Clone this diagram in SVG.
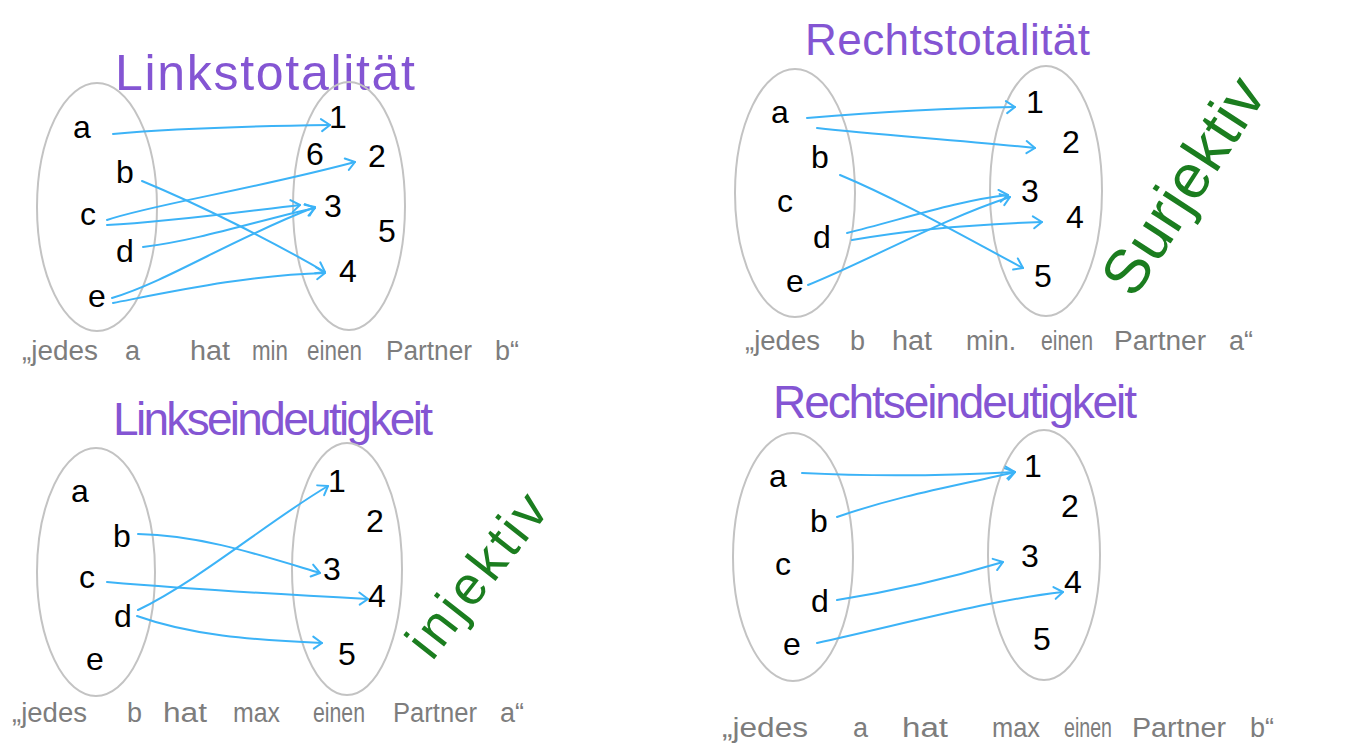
<svg xmlns="http://www.w3.org/2000/svg" width="1353" height="754" viewBox="0 0 1353 754">
<style>
.set{fill:none;stroke:#c3c3c3;stroke-width:2}
.el{font-family:"Liberation Sans",Arial,sans-serif;font-size:32px;fill:#000;text-anchor:middle}
.ttl{font-family:"Liberation Sans",Arial,sans-serif;fill:#8455d3}
.cap text{font-family:"Liberation Sans",Arial,sans-serif;font-size:27px;fill:#7d7d7d}
.grn{font-family:"Liberation Sans",Arial,sans-serif;fill:#1b7d1f}
.con path{fill:none;stroke:#3cb3f7;stroke-width:2;stroke-linecap:round;marker-end:url(#ah)}
</style>
<defs>
<marker id="ah" viewBox="-12 -8 14 16" markerWidth="14" markerHeight="16" refX="0" refY="0" orient="auto" markerUnits="userSpaceOnUse">
<path d="M-9,-6 L0,0 L-8,6" fill="none" stroke="#3cb3f7" stroke-width="2" stroke-linecap="round" stroke-linejoin="round"/>
</marker>
</defs>
<rect width="1353" height="754" fill="#fff"/>

<!-- Panel 1: Linkstotalität -->
<g id="panel1">
<text id="p1-title" class="ttl" x="115" y="90" font-size="50" textLength="300">Linkstotalität</text>
<g id="p1-setA"><ellipse class="set" cx="97" cy="207" rx="60" ry="124"/></g>
<g id="p1-setB"><ellipse class="set" cx="349" cy="206" rx="56" ry="124"/></g>
<g id="p1-a"><text class="el" x="82" y="138">a</text></g>
<g id="p1-b"><text class="el" x="125" y="183">b</text></g>
<g id="p1-c"><text class="el" x="88" y="225">c</text></g>
<g id="p1-d"><text class="el" x="125" y="262">d</text></g>
<g id="p1-e"><text class="el" x="97" y="307">e</text></g>
<g id="p1-1"><text class="el" x="338" y="128">1</text></g>
<g id="p1-6"><text class="el" x="315" y="165">6</text></g>
<g id="p1-2"><text class="el" x="377" y="167">2</text></g>
<g id="p1-3"><text class="el" x="333" y="217">3</text></g>
<g id="p1-5"><text class="el" x="387" y="242">5</text></g>
<g id="p1-4"><text class="el" x="348" y="282">4</text></g>
<g id="p1-caption" class="cap">
<text x="22" y="360" textLength="76" lengthAdjust="spacingAndGlyphs">„jedes</text>
<text x="125" y="360">a</text>
<text x="190" y="360" textLength="40" lengthAdjust="spacingAndGlyphs">hat</text>
<text x="252" y="360" textLength="36" lengthAdjust="spacingAndGlyphs">min</text>
<text x="307" y="360" textLength="55" lengthAdjust="spacingAndGlyphs">einen</text>
<text x="386" y="360" textLength="86" lengthAdjust="spacingAndGlyphs">Partner</text>
<text x="495" y="360">b“</text>
</g>
</g>

<!-- Panel 2: Rechtstotalität -->
<g id="panel2">
<text id="p2-title" class="ttl" x="805" y="55" font-size="44" textLength="285">Rechtstotalität</text>
<g id="p2-setA"><ellipse class="set" cx="795" cy="193" rx="60" ry="124"/></g>
<g id="p2-setB"><ellipse class="set" cx="1046" cy="191" rx="56" ry="125"/></g>
<g id="p2-a"><text class="el" x="780" y="123">a</text></g>
<g id="p2-b"><text class="el" x="820" y="168">b</text></g>
<g id="p2-c"><text class="el" x="785" y="212">c</text></g>
<g id="p2-d"><text class="el" x="822" y="248">d</text></g>
<g id="p2-e"><text class="el" x="795" y="292">e</text></g>
<g id="p2-1"><text class="el" x="1035" y="113">1</text></g>
<g id="p2-2"><text class="el" x="1071" y="153">2</text></g>
<g id="p2-3"><text class="el" x="1030" y="202">3</text></g>
<g id="p2-4"><text class="el" x="1075" y="228">4</text></g>
<g id="p2-5"><text class="el" x="1043" y="287">5</text></g>
<text id="p2-label" class="grn" font-size="62" textLength="245" transform="translate(1134,300) rotate(-57)">Surjektiv</text>
<g id="p2-caption" class="cap">
<text x="745" y="350" textLength="75" lengthAdjust="spacingAndGlyphs">„jedes</text>
<text x="850" y="350">b</text>
<text x="892" y="350" textLength="40" lengthAdjust="spacingAndGlyphs">hat</text>
<text x="966" y="350" textLength="50" lengthAdjust="spacingAndGlyphs">min.</text>
<text x="1041" y="350" textLength="52" lengthAdjust="spacingAndGlyphs">einen</text>
<text x="1114" y="350" textLength="92" lengthAdjust="spacingAndGlyphs">Partner</text>
<text x="1229" y="350">a“</text>
</g>
</g>

<!-- Panel 3: Linkseindeutigkeit -->
<g id="panel3">
<text id="p3-title" class="ttl" x="113" y="435" font-size="46" textLength="320">Linkseindeutigkeit</text>
<g id="p3-setA"><ellipse class="set" cx="96" cy="572" rx="59" ry="124"/></g>
<g id="p3-setB"><ellipse class="set" cx="347" cy="569" rx="55" ry="126"/></g>
<g id="p3-a"><text class="el" x="80" y="502">a</text></g>
<g id="p3-b"><text class="el" x="122" y="547">b</text></g>
<g id="p3-c"><text class="el" x="87" y="588">c</text></g>
<g id="p3-d"><text class="el" x="123" y="627">d</text></g>
<g id="p3-e"><text class="el" x="95" y="670">e</text></g>
<g id="p3-1"><text class="el" x="337" y="492">1</text></g>
<g id="p3-2"><text class="el" x="375" y="532">2</text></g>
<g id="p3-3"><text class="el" x="332" y="580">3</text></g>
<g id="p3-4"><text class="el" x="377" y="607">4</text></g>
<g id="p3-5"><text class="el" x="347" y="665">5</text></g>
<text id="p3-label" class="grn" font-size="54" textLength="192" transform="translate(432,662) rotate(-52)">injektiv</text>
<g id="p3-caption" class="cap">
<text x="12" y="722" textLength="75" lengthAdjust="spacingAndGlyphs">„jedes</text>
<text x="127" y="722">b</text>
<text x="163" y="722" textLength="44" lengthAdjust="spacingAndGlyphs">hat</text>
<text x="233" y="722" textLength="47" lengthAdjust="spacingAndGlyphs">max</text>
<text x="313" y="722" textLength="52" lengthAdjust="spacingAndGlyphs">einen</text>
<text x="393" y="722" textLength="84" lengthAdjust="spacingAndGlyphs">Partner</text>
<text x="500" y="722">a“</text>
</g>
</g>

<!-- Panel 4: Rechtseindeutigkeit -->
<g id="panel4">
<text id="p4-title" class="ttl" x="773" y="418" font-size="46" textLength="364">Rechtseindeutigkeit</text>
<g id="p4-setA"><ellipse class="set" cx="793" cy="557" rx="60" ry="124"/></g>
<g id="p4-setB"><ellipse class="set" cx="1044" cy="555" rx="56" ry="125"/></g>
<g id="p4-a"><text class="el" x="778" y="487">a</text></g>
<g id="p4-b"><text class="el" x="819" y="532">b</text></g>
<g id="p4-c"><text class="el" x="783" y="575">c</text></g>
<g id="p4-d"><text class="el" x="820" y="612">d</text></g>
<g id="p4-e"><text class="el" x="792" y="655">e</text></g>
<g id="p4-1"><text class="el" x="1033" y="477">1</text></g>
<g id="p4-2"><text class="el" x="1070" y="517">2</text></g>
<g id="p4-3"><text class="el" x="1030" y="567">3</text></g>
<g id="p4-4"><text class="el" x="1073" y="593">4</text></g>
<g id="p4-5"><text class="el" x="1042" y="650">5</text></g>
<g id="p4-caption" class="cap">
<text x="722" y="737" textLength="86" lengthAdjust="spacingAndGlyphs">„jedes</text>
<text x="853" y="737">a</text>
<text x="902" y="737" textLength="46" lengthAdjust="spacingAndGlyphs">hat</text>
<text x="992" y="737" textLength="48" lengthAdjust="spacingAndGlyphs">max</text>
<text x="1064" y="737" textLength="48" lengthAdjust="spacingAndGlyphs">einen</text>
<text x="1132" y="737" textLength="94" lengthAdjust="spacingAndGlyphs">Partner</text>
<text x="1250" y="737">b“</text>
</g>
</g>

<!-- Connectors -->
<g id="connectors" class="con">
<path id="p1-a-1" d="M113,134 C180,128 260,126 330,125"/>
<path id="p1-b-4" d="M142,181 C200,205 270,240 325,272"/>
<path id="p1-c-2" d="M107,220 C150,205 250,190 355,162"/>
<path id="p1-c-3" d="M107,225 C170,222 240,212 300,205"/>
<path id="p1-d-3" d="M143,247 C200,240 260,220 315,208"/>
<path id="p1-e-3" d="M112,298 C170,280 230,240 315,207"/>
<path id="p1-e-4" d="M113,303 C180,290 250,275 325,273"/>

<path id="p2-a-1" d="M807,118 C880,112 960,108 1015,107"/>
<path id="p2-a-2" d="M817,128 C880,135 960,140 1035,148"/>
<path id="p2-b-5" d="M840,175 C900,200 970,240 1023,268"/>
<path id="p2-d-3" d="M847,233 C900,220 960,200 1008,195"/>
<path id="p2-d-4" d="M852,240 C920,228 980,224 1042,222"/>
<path id="p2-e-3" d="M808,285 C870,260 940,220 1010,197"/>

<path id="p3-b-3" d="M138,534 C200,535 260,555 320,573"/>
<path id="p3-c-4" d="M107,582 C200,590 290,595 368,599"/>
<path id="p3-d-1" d="M138,610 C200,580 270,520 328,486"/>
<path id="p3-d-5" d="M137,616 C190,635 250,640 322,643"/>

<path id="p4-a-1" d="M802,473 C880,477 960,475 1015,472"/>
<path id="p4-b-1" d="M837,517 C900,495 960,485 1015,472"/>
<path id="p4-d-3" d="M837,600 C900,590 960,575 1003,562"/>
<path id="p4-e-4" d="M817,643 C900,625 990,600 1063,592"/>
</g>
</svg>
